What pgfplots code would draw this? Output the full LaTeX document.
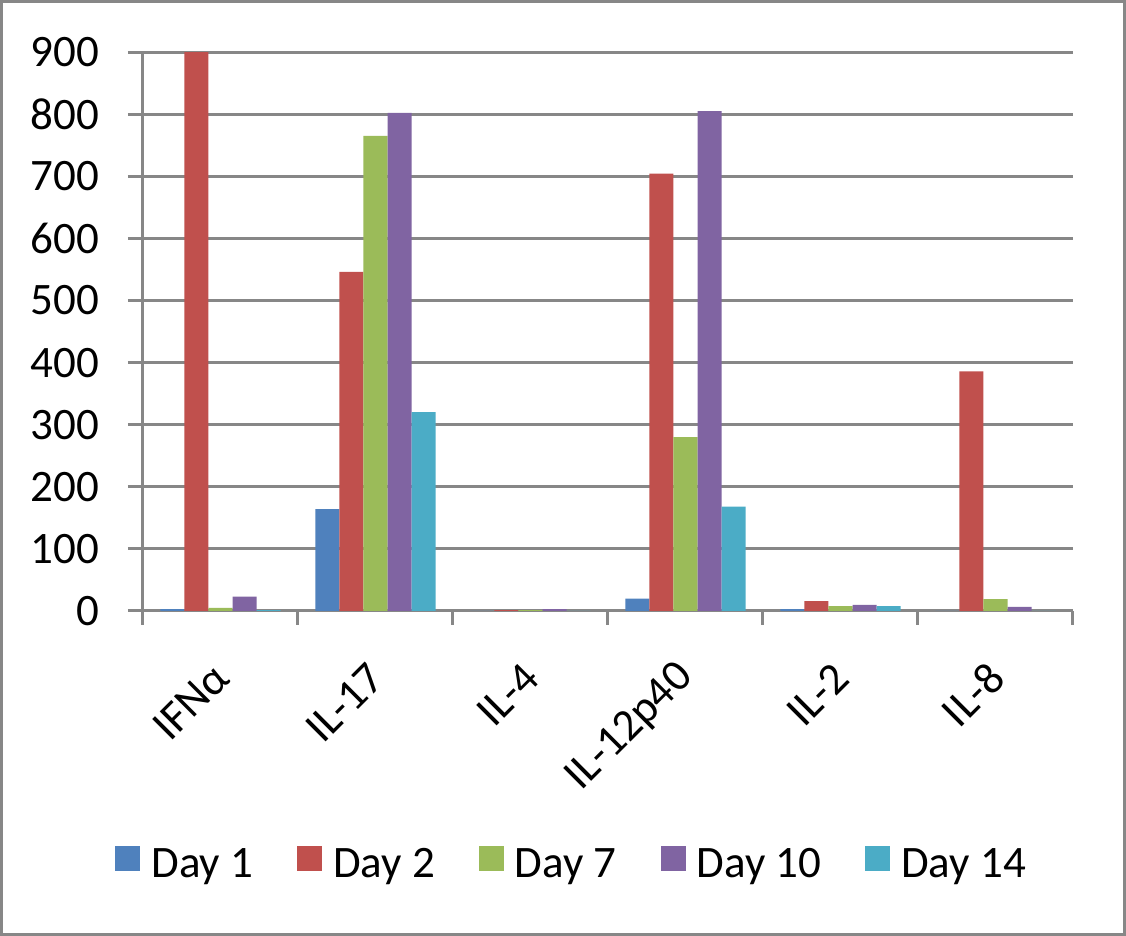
\documentclass[border=0pt]{standalone}
\usepackage{pgfplots}
\pgfplotsset{compat=1.18}
\usepackage{fontspec}
\setmainfont{Carlito}

\definecolor{dayone}{HTML}{4F81BD}
\definecolor{daytwo}{HTML}{C0504D}
\definecolor{dayseven}{HTML}{9BBB59}
\definecolor{dayten}{HTML}{8064A2}
\definecolor{dayfourteen}{HTML}{4BACC6}
\definecolor{axgray}{HTML}{878787}

\begin{document}
\begin{tikzpicture}
\begin{axis}[
    at={(0,0)}, anchor=south west,
    scale only axis,
    width=465pt, height=279.5pt,
    xmin=-0.5, xmax=5.5,
    ymin=0, ymax=900,
    ytick={0,100,...,900},
    xtick={0,...,5},
    xticklabels={IFNα, IL-17, IL-4, IL-12p40, IL-2, IL-8},
    minor xtick={-0.5,0.5,...,5.5},
    axis x line*=bottom, axis y line*=left,
    axis line style={axgray, line width=1.5pt, -},
    ymajorgrids,
    grid style={axgray, line width=1.5pt},
    tick align=outside,
    major tick length=7.5pt, minor tick length=7pt,
    every tick/.style={axgray, line width=1.5pt},
    major x tick style={draw=none},
    tick label style={font=\fontsize{22.5}{27}\selectfont, black},
    yticklabel style={xshift=-11pt},
    xticklabel style={yshift=-20pt, xshift=3pt, rotate=45, anchor=east},
    /pgf/number format/assume math mode=true,
    legend style={at={(0.462,-0.454)}, anchor=center, draw=none,
        font=\fontsize{22.5}{27}\selectfont,
        /tikz/every odd column/.append style={column sep=3.5pt},
        /tikz/every even column/.append style={column sep=20pt}},
    legend columns=-1,
    legend image code/.code={\fill[#1] (0pt,-3pt) rectangle (12.5pt,9.5pt);},
]
\addplot[ybar, bar width=0.155, bar shift=-0.31, fill=dayone, draw=none]
    coordinates {(0,3) (1,164) (2,0) (3,20) (4,3) (5,0)};
\addplot[ybar, bar width=0.155, bar shift=-0.155, fill=daytwo, draw=none]
    coordinates {(0,900) (1,546) (2,1.5) (3,704) (4,16) (5,386)};
\addplot[ybar, bar width=0.155, bar shift=0, fill=dayseven, draw=none]
    coordinates {(0,5) (1,765) (2,1.5) (3,280) (4,8) (5,19)};
\addplot[ybar, bar width=0.155, bar shift=0.155, fill=dayten, draw=none]
    coordinates {(0,23) (1,802) (2,3) (3,805) (4,10) (5,6.5)};
\addplot[ybar, bar width=0.155, bar shift=0.31, fill=dayfourteen, draw=none]
    coordinates {(0,1.5) (1,320) (2,0) (3,168) (4,8) (5,0)};
\legend{Day 1, Day 2, Day 7, Day 10, Day 14}
\end{axis}
\draw[axgray, line width=1.5pt] (-70.75pt,-161.75pt) rectangle (490.75pt,304.75pt);
\pgfresetboundingbox
\path (-71.5pt,-162.5pt) rectangle (491.5pt,305.5pt);
\end{tikzpicture}
\end{document}
